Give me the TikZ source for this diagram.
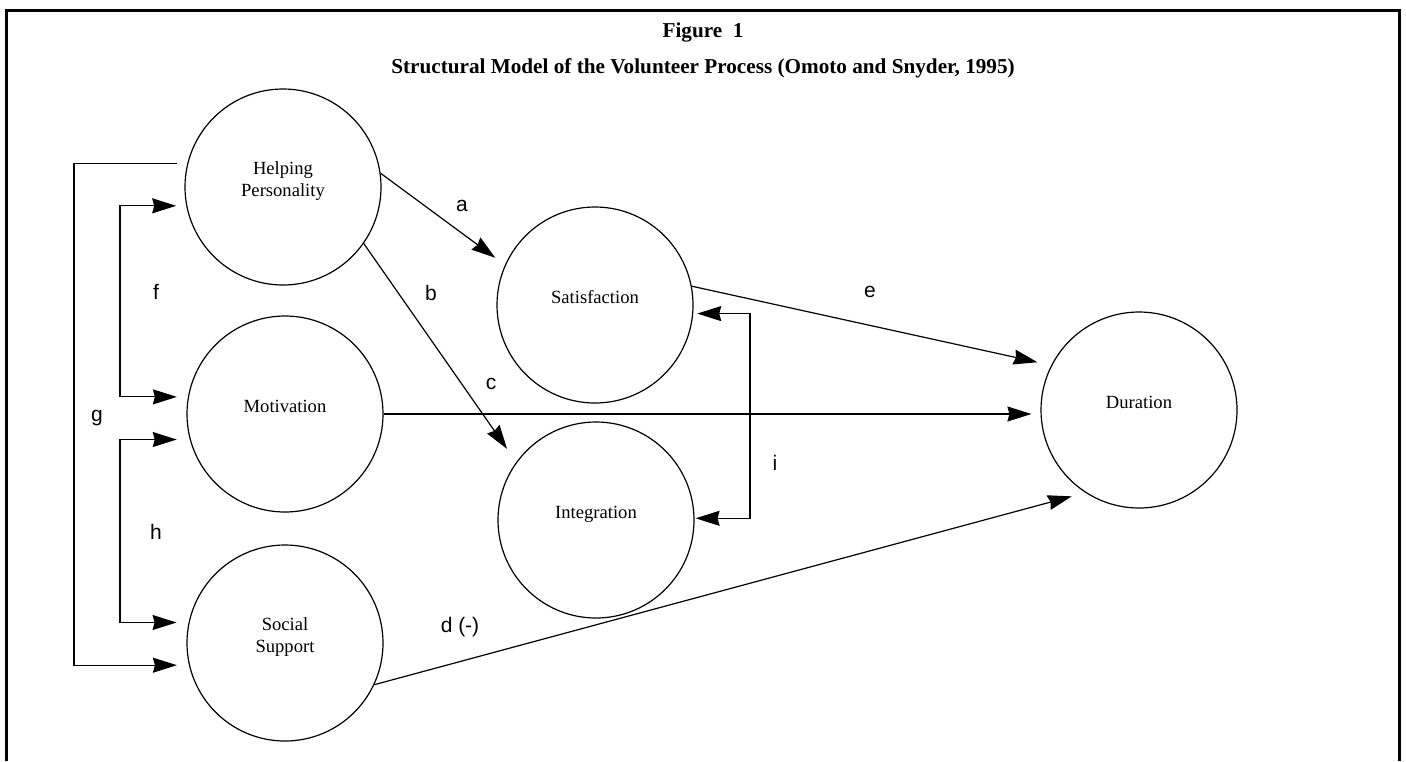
\documentclass[tikz,border=0pt]{standalone}
\usepackage{fontspec}
\setmainfont{Liberation Serif}
\setsansfont{Liberation Sans}
\usepackage{xcolor}
\usepackage{tikz}
\usetikzlibrary{arrows.meta}

\newcommand{\vlift}[1]{\raisebox{3pt}[\height][\depth]{\begin{tabular}{@{}c@{}}#1\end{tabular}}}

\begin{document}
\begin{tikzpicture}[x=0.5pt,y=-0.5pt,
		var/.style={draw, circle, line width=0.6pt, minimum size=98pt, inner sep=0pt, font=\fontsize{9.3}{11}\selectfont},
		lbl/.style={font=\sffamily\fontsize{10.5}{12}\selectfont, inner sep=0pt},
		ttl/.style={font=\bfseries\fontsize{10.6}{12}\selectfont, inner sep=0pt},
		conn/.style={line width=0.6pt, -{Stealth[length=12pt,width=7.5pt,inset=1pt]}},
		bothconn/.style={line width=0.6pt, {Stealth[length=12pt,width=7.5pt,inset=1pt]}-{Stealth[length=12pt,width=7.5pt,inset=1pt]}}]
		\useasboundingbox (0,0) rectangle (1406,761);
		\draw[line width=1.5pt] (6,761) -- (6,10) -- (1399,10) -- (1399,761);
		\node[ttl] (fig) at (703,32) {Figure\ \ 1};
		\node[ttl] (title) at (703,68) {Structural Model of the Volunteer Process (Omoto and Snyder, 1995)};
		\draw
		node[var] at (283,187) (help) {\vlift{Helping\\Personality}}
		node[var] at (285,414) (mot) {\vlift{Motivation}}
		node[var] at (285,643) (soc) {\vlift{Social\\Support}}
		node[var] at (595,305) (sat) {\vlift{Satisfaction}}
		node[var] at (596,520) (integ) {\vlift{Integration}}
		node[var] at (1139,410) (dur) {\vlift{Duration}};
		\coordinate (fbar) at (120,300);
		\coordinate (gbar) at (74,400);
		\coordinate (hbar) at (120,530);
		\coordinate (ibar) at (750,400);
		\draw[conn, shorten >=6pt] (help.8) -- (sat.156);
		\draw[conn, shorten >=8pt] (help.-35) -- (integ.144.5);
		\draw[conn, shorten >=4.5pt] (mot.east) -- (mot.east -| dur.west);
		\draw[conn, shorten >=7pt] (soc.-25.3) -- (dur.237);
		\draw[conn, shorten >=7pt] (sat.11) -- (dur.153.3);
		\draw[bothconn, shorten <=5pt, shorten >=5.5pt] (help.191.2) -| (fbar) |- (mot.170.6);
		\draw[conn, shorten <=5pt, shorten >=6pt] (help.166.4) -| (gbar) |- (soc.193);
		\draw[bothconn, shorten <=6.5pt, shorten >=6pt] (mot.195.4) -| (hbar) |- (soc.168.2);
		\draw[bothconn, shorten <=2pt, shorten >=0.5pt] (sat.355.9) -| (ibar) |- (integ.1.2);
		\node[lbl] (la) at (462,206) {a};
		\node[lbl] (lb) at (431,293) {b};
		\node[lbl] (lc) at (491,384) {c};
		\node[lbl] (ld) at (460,627) {d (-)};
		\node[lbl] (le) at (870,292) {e};
		\node[lbl] (lf) at (156,292) {f};
		\node[lbl] (lg) at (97,418) {g};
		\node[lbl] (lh) at (156,532) {h};
		\node[lbl] (li) at (775,463) {i};
	\end{tikzpicture}
\end{document}
